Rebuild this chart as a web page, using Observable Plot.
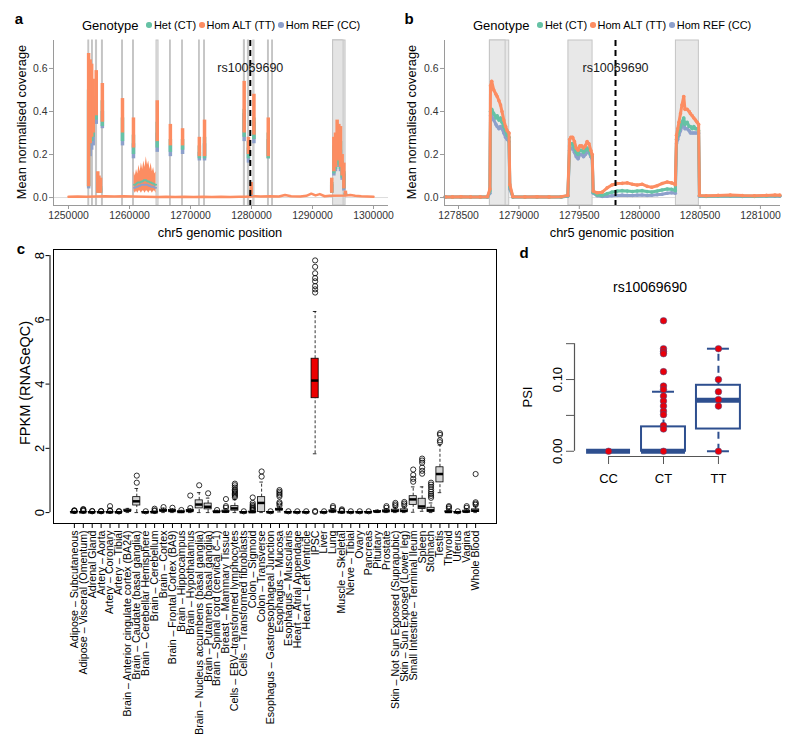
<!DOCTYPE html>
<html><head><meta charset="utf-8">
<script src="https://cdn.jsdelivr.net/npm/d3@7"></script>
<script src="https://cdn.jsdelivr.net/npm/@observablehq/plot@0.6"></script>
<style>
body{margin:0;background:#fff;font-family:"Liberation Sans",Arial,Helvetica,sans-serif;}
#wrap{position:relative;width:800px;height:750px;overflow:hidden;background:#fff;}
.lab{position:absolute;transform:translate(-50%,-50%);white-space:nowrap;color:#000;line-height:1;}
.rot{transform:translate(-50%,-50%) rotate(-90deg);}
.tag{font-weight:bold;font-size:15px;}
.legend{position:absolute;display:flex;align-items:center;font-size:11px;color:#000;white-space:nowrap;line-height:1;}
.legend .t{font-size:13px;margin-right:5px;}
.legend .d{width:5.5px;height:5.5px;border-radius:50%;display:inline-block;margin:0 2px 0 3px;}
.gg g[aria-label="x-axis tick"], .gg g[aria-label="y-axis tick"]{stroke:#9a9a9a;}
.gg g[aria-label="x-axis tick label"], .gg g[aria-label="y-axis tick label"]{fill:#333;}
.dd g[aria-label="x-axis tick"], .dd g[aria-label="y-axis tick"]{stroke:#555;}
</style></head><body><div id="wrap"></div>
<script>
// ---------- shared ----------
const genotypeLabels = ["Het (CT)", "Hom ALT (TT)", "Hom REF (CC)"];
const colCT = "#66c2a5", colTT = "#fc8d62", colCC = "#8da0cb";
const snpName = "rs10069690";
const snpPos = 1279800;
const exonStart = [1253250,1253850,1254500,1255480,1258780,1260580,1264430,1266640,1268620,1271400,1272230,1278760,1278760,1279410,1280300,1282700,1283380,1293380,1293380,1293380];
const exonEnd   = [1253400,1254000,1254680,1255640,1258930,1260730,1264760,1266780,1268760,1271530,1272370,1278920,1278890,1279610,1280490,1282850,1283520,1295420,1294900,1295100];

// ---------- panel a ----------
const aTicks = [1250000,1260000,1270000,1280000,1290000,1300000];
const aBasePos = [1250000,1251500,1253000,1256000,1257500,1259000,1260500,1264700,1266000,1267500,1269000,1270500,1272000,1273500,1275000,1276500,1278000,1279000,1280600,1281500,1283000,1284500,1285500,1286500,1288000,1289000,1289800,1290500,1291200,1292000,1292800,1295500,1296200,1297000,1298000,1299000,1300000];
const aBaseTT  = [0.004,0.005,0.004,0.006,0.005,0.006,0.005,0.003,0.004,0.003,0.004,0.003,0.004,0.003,0.004,0.003,0.004,0.004,0.006,0.005,0.006,0.005,0.012,0.006,0.005,0.008,0.018,0.01,0.016,0.006,0.008,0.01,0.012,0.008,0.006,0.005,0.004];
const aIntronPos = [1260750,1260950,1261150,1261350,1261550,1261750,1261950,1262150,1262350,1262550,1262750,1262950,1263150,1263350,1263550,1263750,1263950,1264150,1264350];
const aIntronLo  = [0.03,0.02,0.03,0.02,0.03,0.03,0.02,0.03,0.03,0.02,0.03,0.03,0.02,0.03,0.03,0.02,0.03,0.03,0.02];
const aIntronHi  = [0.12,0.10,0.13,0.11,0.15,0.12,0.16,0.13,0.17,0.14,0.19,0.15,0.17,0.13,0.16,0.12,0.14,0.11,0.12];
const aIntronCT  = [0.06,0.06,0.065,0.07,0.07,0.07,0.075,0.075,0.08,0.08,0.08,0.075,0.075,0.07,0.07,0.065,0.065,0.06,0.06];
const aIntronCC  = [0.045,0.045,0.05,0.05,0.055,0.055,0.06,0.06,0.06,0.06,0.06,0.06,0.055,0.055,0.05,0.05,0.05,0.045,0.045];
const aStreakPos = [1253300,1253550,1253800,1254050,1254550,1254800,1255000,1255250,1255550,1258850,1260650,1264550,1266700,1268700,1271450,1272300,1278800,1279500,1279950,1280400,1282750,1293150,1293500,1293770,1294040,1294320,1294590,1294860,1295140,1295400];
const aTTlo = [0.05,0.25,0.28,0.30,0.38,0.02,0.02,0.02,0.35,0.30,0.23,0.26,0.24,0.24,0.19,0.19,0.30,0.20,0.01,0.29,0.19,0.02,0.12,0.14,0.18,0.17,0.14,0.10,0.04,0.01];
const aTThi = [0.67,0.64,0.62,0.55,0.59,0.12,0.10,0.09,0.53,0.46,0.37,0.45,0.34,0.32,0.28,0.36,0.54,0.28,0.07,0.48,0.37,0.09,0.28,0.30,0.36,0.34,0.33,0.20,0.16,0.03];
const aCTlo = [0.05,0.25,0.26,0.28,0.36,0.02,0.02,0.02,0.33,0.26,0.20,0.23,0.21,0.22,0.18,0.18,0.28,0.18,0.01,0.27,0.18,0.02,0.11,0.13,0.16,0.15,0.13,0.09,0.04,0.01];
const aCThi = [0.50,0.48,0.46,0.42,0.47,0.07,0.06,0.05,0.45,0.37,0.29,0.35,0.27,0.27,0.24,0.28,0.41,0.26,0.04,0.37,0.30,0.07,0.24,0.25,0.28,0.27,0.26,0.17,0.12,0.02];
const aCClo = [0.04,0.19,0.22,0.24,0.34,0.02,0.02,0.02,0.32,0.24,0.18,0.21,0.19,0.20,0.17,0.17,0.26,0.16,0.005,0.25,0.18,0.02,0.10,0.12,0.15,0.14,0.12,0.08,0.03,0.01];
const aCChi = [0.45,0.42,0.40,0.38,0.42,0.05,0.05,0.04,0.40,0.30,0.25,0.30,0.24,0.24,0.21,0.25,0.39,0.23,0.02,0.35,0.27,0.06,0.20,0.22,0.25,0.24,0.22,0.15,0.11,0.02];

// ---------- panel b ----------
const bTicks = [1278500,1279000,1279500,1280000,1280500,1281000];
const bPos = [1278390,1278450,1278520,1278600,1278680,1278740,1278760,
 1278765,1278775,1278792,1278810,1278820,1278835,1278848,1278860,1278875,1278890,1278903,1278918,
 1278925,1278950,1279050,1279150,1279250,1279350,1279405,
 1279420,1279430,1279445,1279460,1279475,1279490,1279505,1279520,1279535,1279550,1279565,1279580,1279595,1279607,
 1279615,1279648,1279690,1279731,1279770,1279814,1279855,1279897,1279940,1279979,1280020,1280062,1280100,1280145,1280185,1280228,1280265,1280295,
 1280305,1280315,1280325,1280338,1280350,1280365,1280375,1280393,1280410,1280420,1280435,1280448,1280462,1280476,1280488,
 1280495,1280550,1280650,1280750,1280850,1280950,1281050,1281120,1281160];
const bTT = [0.003,0.003,0.004,0.003,0.003,0.004,0.04,
 0.52,0.54,0.50,0.48,0.47,0.45,0.43,0.40,0.36,0.33,0.31,0.30,
 0.06,0.004,0.003,0.004,0.003,0.004,0.01,
 0.27,0.28,0.28,0.26,0.23,0.22,0.24,0.24,0.23,0.24,0.26,0.25,0.22,0.20,
 0.03,0.022,0.025,0.045,0.058,0.065,0.066,0.068,0.062,0.058,0.062,0.052,0.048,0.055,0.065,0.072,0.068,0.06,
 0.29,0.32,0.35,0.39,0.43,0.47,0.41,0.41,0.40,0.39,0.38,0.37,0.36,0.35,0.34,
 0.01,0.008,0.01,0.012,0.009,0.008,0.01,0.012,0.011];
const bCT = [0.002,0.002,0.003,0.002,0.002,0.003,0.03,
 0.40,0.41,0.39,0.37,0.38,0.36,0.37,0.35,0.33,0.31,0.29,0.28,
 0.05,0.003,0.002,0.003,0.002,0.003,0.008,
 0.24,0.25,0.25,0.23,0.21,0.20,0.22,0.22,0.21,0.22,0.23,0.22,0.20,0.19,
 0.025,0.012,0.01,0.018,0.025,0.03,0.032,0.03,0.028,0.03,0.032,0.028,0.026,0.03,0.035,0.04,0.038,0.032,
 0.27,0.29,0.31,0.33,0.35,0.37,0.34,0.35,0.33,0.33,0.32,0.33,0.32,0.32,0.31,
 0.008,0.006,0.007,0.008,0.007,0.006,0.007,0.008,0.008];
const bCC = [0.002,0.002,0.002,0.002,0.002,0.002,0.02,
 0.38,0.38,0.36,0.34,0.33,0.32,0.33,0.32,0.30,0.28,0.27,0.26,
 0.04,0.002,0.002,0.002,0.002,0.002,0.006,
 0.22,0.23,0.23,0.21,0.19,0.18,0.20,0.20,0.19,0.20,0.21,0.21,0.19,0.18,
 0.02,0.008,0.005,0.006,0.008,0.01,0.011,0.01,0.01,0.011,0.012,0.01,0.011,0.013,0.015,0.02,0.022,0.02,
 0.25,0.27,0.29,0.31,0.33,0.35,0.32,0.32,0.31,0.30,0.30,0.30,0.30,0.30,0.30,
 0.006,0.005,0.006,0.006,0.005,0.005,0.006,0.006,0.006];

// ---------- panel c ----------
const cTissue = ["Adipose – Subcutaneous","Adipose – Visceral (Omentum)","Adrenal Gland","Artery – Aorta","Artery – Coronary","Artery – Tibial","Brain – Anterior cingulate cortex (BA24)","Brain – Caudate (basal ganglia)","Brain – Cerebellar Hemisphere","Brain – Cerebellum","Brain – Cortex","Brain – Frontal Cortex (BA9)","Brain – Hippocampus","Brain – Hypothalamus","Brain – Nucleus accumbens (basal ganglia)","Brain – Putamen (basal ganglia)","Brain – Spinal cord (cervical c–1)","Breast – Mammary Tissue","Cells – EBV–transformed lymphocytes","Cells – Transformed fibroblasts","Colon – Sigmoid","Colon – Transverse","Esophagus – Gastroesophageal Junction","Esophagus – Mucosa","Esophagus – Muscularis","Heart – Atrial Appendage","Heart – Left Ventricle","IPSC","Liver","Lung","Muscle – Skeletal","Nerve – Tibial","Ovary","Pancreas","Pituitary","Prostate","Skin – Not Sun Exposed (Suprapubic)","Skin – Sun Exposed (Lower leg)","Small Intestine – Terminal Ileum","Spleen","Stomach","Testis","Thyroid","Uterus","Vagina","Whole Blood"];
const cHighlight = "IPSC";
const cQ1  = [0.005,0.005,0.003,0.003,0.004,0.003,0.04,0.22,0.003,0.004, 0.04,0.03,0.01,0.03,0.13,0.10,0.01,0.01,0.06,0.003, 0.005,0.02,0.003,0.07,0.003,0.003,0.003,3.56,0.003,0.02, 0.004,0.003,0.003,0.003,0.02,0.02,0.02,0.02,0.24,0.11, 0.02,0.94,0.01,0.003,0.01,0.02];
const cMed = [0.01,0.01,0.008,0.008,0.01,0.007,0.06,0.35,0.008,0.01, 0.06,0.05,0.02,0.05,0.25,0.18,0.02,0.03,0.13,0.008, 0.015,0.30,0.008,0.10,0.008,0.008,0.008,4.11,0.008,0.04, 0.01,0.008,0.008,0.008,0.03,0.04,0.05,0.05,0.41,0.19, 0.07,1.20,0.02,0.008,0.03,0.06];
const cQ3  = [0.02,0.02,0.015,0.015,0.02,0.013,0.09,0.48,0.015,0.02, 0.09,0.08,0.04,0.08,0.38,0.28,0.04,0.06,0.20,0.015, 0.03,0.48,0.015,0.12,0.015,0.015,0.015,4.79,0.015,0.07, 0.02,0.015,0.015,0.015,0.05,0.07,0.09,0.10,0.51,0.43, 0.15,1.41,0.04,0.015,0.06,0.10];
const cLo  = [0,0,0,0,0,0,0,0,0,0, 0,0,0,0,0,0,0,0,0,0, 0,0,0,0.02,0,0,0,1.83,0,0, 0,0,0,0,0,0,0,0,0.01,0.04, 0,0.62,0,0,0,0];
const cHi  = [0.04,0.04,0.03,0.03,0.04,0.025,0.13,0.75,0.03,0.04, 0.14,0.12,0.07,0.12,0.62,0.45,0.07,0.12,0.40,0.03, 0.06,0.95,0.03,0.18,0.03,0.03,0.03,6.26,0.03,0.12, 0.04,0.03,0.03,0.03,0.08,0.12,0.16,0.18,0.80,0.80, 0.30,2.10,0.08,0.03,0.12,0.20];
const cOut = [[0.05,0.06,0.07],[0.05,0.07,0.09,0.11],[0.04,0.05],[0.04,0.05],[0.05,0.07,0.20],[0.035,0.045],[],[0.93,1.15],[0.04],[0.05,0.07,0.12],
 [0.17],[0.15],[0.08],[0.14,0.53],[0.85],[0.60],[0.08],[0.15,0.20,0.42],[0.48,0.52,0.56,0.60,0.64,0.68,0.72,0.78,0.85,0.90],[0.04],
 [0.08,0.10,0.13,0.16,0.20,0.24,0.30,0.47],[1.12,1.28],[0.04],[0.22,0.28,0.32,0.50,0.55,0.60,0.65,0.70],[0.04],[0.04],[0.04],[0.02,0.05,6.85,6.95,7.05,7.20,7.30,7.45,7.65,7.85],[0.04],[0.15,0.20],
 [0.05,0.07,0.10],[0.04],[0.04],[0.04],[],[0.15,0.20],[0.20,0.25,0.30],[0.22,0.28,0.33],[0.96,1.05,1.17,1.34],[1.21,1.30,1.40,1.55,1.62,1.68],
 [0.46,0.52,0.58,0.65,0.72,0.80,0.87,0.93],[2.19,2.25,2.42,2.47],[0.12,0.17,0.20],[0.04],[0.15,0.20],[0.24,0.28,0.32,1.20]];
const cYTicks = [0,2,4,6,8];

// ---------- panel d ----------
const dGroups = ["CC","CT","TT"];
const dQ1  = [0, 0, 0.031];
const dMed = [0, 0, 0.071];
const dQ3  = [0, 0.034, 0.092];
const dLo  = [0, 0, 0];
const dHi  = [0, 0.083, 0.143];
const dPoints = [[0],
 [0.182,0.143,0.139,0.136,0.111,0.091,0.086,0.077,0.070,0.063,0.056,0.051,0.036,0.031,0],
 [0.143,0.100,0.083,0.072,0.063,0]];
const dYTicks = [0,0.05,0.10,0.15];

// ================= build =================
const FONT = '"Liberation Sans", Arial, Helvetica, sans-serif';
const wrap = document.getElementById("wrap");
function place(el, left, top, cls){ el.style.position="absolute"; el.style.left=left+"px"; el.style.top=top+"px"; el.style.overflow="visible"; el.style.maxWidth="none"; if(cls) el.classList.add(cls); wrap.appendChild(el); }
function label(text, x, y, size, opts={}){ const d=document.createElement("div"); d.className="lab"+(opts.rot?" rot":"")+(opts.tag?" tag":""); d.textContent=text; d.style.left=x+"px"; d.style.top=y+"px"; if(size) d.style.fontSize=size+"px"; wrap.appendChild(d); }
function legend(x, y){
  const d=document.createElement("div"); d.className="legend"; d.style.left=x+"px"; d.style.top=(y-8)+"px"; d.style.height="16px";
  let h='<span class="t">Genotype</span>';
  const cols=[colCT,colTT,colCC];
  genotypeLabels.forEach((g,i)=>{ h+=`<span class="d" style="background:${cols[i]}"></span><span>${g}</span>`; });
  d.innerHTML=h; wrap.appendChild(d);
}
const exons = exonStart.map((s,i)=>({s, e:exonEnd[i]}));

// panel a
const aDomX=[1247541,1302459], aDomY=[-0.037,0.73];
const aBase = aBasePos.map((p,i)=>({pos:p, v:aBaseTT[i]}));
const aIn = aIntronPos.map((p,i)=>({pos:p, lo:aIntronLo[i], hi:aIntronHi[i], ct:aIntronCT[i], cc:aIntronCC[i]}));
const aS = aStreakPos.map((p,i)=>({pos:p, ttlo:aTTlo[i], tthi:aTThi[i], ctlo:aCTlo[i], cthi:aCThi[i], cclo:aCClo[i], cchi:aCChi[i]}));
const styleGG = {background:"transparent", fontFamily:FONT, fontSize:"10.4px", color:"#333", overflow:"visible"};
const pa = Plot.plot({
  width:400, height:250, marginLeft:53, marginRight:12, marginTop:40, marginBottom:45,
  style:styleGG, x:{domain:aDomX}, y:{domain:aDomY},
  marks:[
    Plot.ruleY([0],{stroke:"#dcdcdc"}),
    Plot.rect(exons.filter(d=>d.e>aDomX[0]&&d.s<aDomX[1]),{x1:"s",x2:"e",fill:"#e4e4e4",stroke:"#c4c4c4",strokeWidth:1}),
    Plot.line(aBase,{x:"pos",y:"v",stroke:colTT,strokeWidth:2.5}),
    Plot.areaY(aIn,{x:"pos",y1:"lo",y2:"hi",fill:colTT}),
    Plot.line(aIn,{x:"pos",y:"ct",stroke:colCT,strokeWidth:2}),
    Plot.line(aIn,{x:"pos",y:"cc",stroke:colCC,strokeWidth:2}),
    Plot.ruleX(aS,{x:"pos",y1:"cclo",y2:"cchi",stroke:colCC,strokeWidth:3.5}),
    Plot.ruleX(aS,{x:"pos",y1:"ctlo",y2:"cthi",stroke:colCT,strokeWidth:3.5}),
    Plot.ruleX(aS,{x:"pos",y1:"ttlo",y2:"tthi",stroke:colTT,strokeWidth:3.5}),
    Plot.ruleX([snpPos],{stroke:"#000",strokeWidth:2,strokeDasharray:"6,4"}),
    Plot.text([{x:snpPos,y:0.6,t:snpName}],{x:"x",y:"y",text:"t",fontSize:12.5,fill:"#1a1a1a"}),
    Plot.ruleX([aDomX[0]],{stroke:"#9a9a9a"}),
    Plot.ruleY([aDomY[0]],{stroke:"#9a9a9a"}),
    Plot.axisX({ticks:aTicks,tickFormat:d3.format("d"),tickSize:4,tickPadding:2,label:null}),
    Plot.axisY({ticks:[0,0.2,0.4,0.6],tickFormat:d3.format(".1f"),tickSize:4,tickPadding:2,label:null})
  ]
});
place(pa,0,0,"gg");

// panel b
const bDomX=[1278384,1281166], bDomY=aDomY;
const bRows = bPos.map((p,i)=>({pos:p, tt:bTT[i], ct:bCT[i], cc:bCC[i]}));
const pb = Plot.plot({
  width:400, height:250, marginLeft:44, marginRight:20, marginTop:40, marginBottom:45,
  style:styleGG, x:{domain:bDomX}, y:{domain:bDomY},
  marks:[
    Plot.ruleY([0],{stroke:"#dcdcdc"}),
    Plot.rect(exons.filter(d=>d.e>bDomX[0]&&d.s<bDomX[1]),{x1:"s",x2:"e",fill:"#e8e8e8",stroke:"#c4c4c4",strokeWidth:1}),
    Plot.line(bRows,{x:"pos",y:"cc",stroke:colCC,strokeWidth:3}),
    Plot.dot(bRows,{x:"pos",y:"cc",fill:colCC,r:1.8}),
    Plot.line(bRows,{x:"pos",y:"ct",stroke:colCT,strokeWidth:3}),
    Plot.dot(bRows,{x:"pos",y:"ct",fill:colCT,r:1.8}),
    Plot.line(bRows,{x:"pos",y:"tt",stroke:colTT,strokeWidth:3}),
    Plot.dot(bRows,{x:"pos",y:"tt",fill:colTT,r:1.8}),
    Plot.ruleX([snpPos],{stroke:"#000",strokeWidth:2,strokeDasharray:"6,4"}),
    Plot.text([{x:snpPos,y:0.6,t:snpName}],{x:"x",y:"y",text:"t",fontSize:12.5,fill:"#1a1a1a"}),
    Plot.ruleX([bDomX[0]],{stroke:"#9a9a9a"}),
    Plot.ruleY([bDomY[0]],{stroke:"#9a9a9a"}),
    Plot.axisX({ticks:bTicks,tickFormat:d3.format("d"),tickSize:4,tickPadding:2,label:null}),
    Plot.axisY({ticks:[0,0.2,0.4,0.6],tickFormat:d3.format(".1f"),tickSize:4,tickPadding:2,label:null})
  ]
});
place(pb,400,0,"gg");

// panel c
const cRows = cTissue.map((name,k)=>({i:k+1, name, q1:cQ1[k], med:cMed[k], q3:cQ3[k], lo:cLo[k], hi:cHi[k]}));
const cOutRows = cOut.flatMap((arr,k)=>arr.map(v=>({i:k+1, v})));
const cDomX=[-1.34,48.34], cDomY=[-0.34,8.19];
const pc = Plot.plot({
  width:510, height:510, marginLeft:53, marginRight:14, marginTop:9, marginBottom:227,
  style:{background:"transparent", fontFamily:FONT, fontSize:"13px", color:"#000", overflow:"visible"},
  x:{domain:cDomX}, y:{domain:cDomY},
  marks:[
    Plot.frame({stroke:"#000",strokeWidth:1}),
    Plot.ruleX(cRows,{x:"i",y1:"q3",y2:"hi",stroke:"#000",strokeWidth:0.8,strokeDasharray:"3,2"}),
    Plot.ruleX(cRows,{x:"i",y1:"lo",y2:"q1",stroke:"#000",strokeWidth:0.8,strokeDasharray:"3,2"}),
    Plot.ruleY(cRows,{y:"hi",x1:d=>d.i-0.2,x2:d=>d.i+0.2,stroke:"#000",strokeWidth:0.8}),
    Plot.ruleY(cRows,{y:"lo",x1:d=>d.i-0.2,x2:d=>d.i+0.2,stroke:"#000",strokeWidth:0.8}),
    Plot.rect(cRows,{x1:d=>d.i-0.4,x2:d=>d.i+0.4,y1:"q1",y2:"q3",fill:d=>d.name===cHighlight?"#ec0000":"#d3d3d3",stroke:"#000",strokeWidth:0.8}),
    Plot.ruleY(cRows,{y:"med",x1:d=>d.i-0.4,x2:d=>d.i+0.4,stroke:"#000",strokeWidth:2.5}),
    Plot.dot(cOutRows,{x:"i",y:"v",r:2.6,stroke:"#000",strokeWidth:0.8,fill:"none"}),
    Plot.ruleX([{x:cDomX[0],y1:cYTicks[0],y2:cYTicks[cYTicks.length-1]}],{x:"x",y1:"y1",y2:"y2",dx:-3.5,stroke:"#000"}),
    Plot.axisY({ticks:cYTicks,tickSize:4,tickPadding:2,tickRotate:-90,dx:-3.5,fontSize:13,label:null}),
    Plot.axisX({ticks:cRows.map(d=>d.i),tickFormat:i=>cTissue[i-1],tickSize:5,tickPadding:2,tickRotate:-90,textAnchor:"end",fontSize:10.6,label:null})
  ]
});
place(pc,0,240);

// panel d
const dBlue = "#2e4f8f";
const dRows = dGroups.map((g,k)=>({i:k+1, g, q1:dQ1[k], med:dMed[k], q3:dQ3[k], lo:dLo[k], hi:dHi[k]}));
const dPts = dPoints.flatMap((arr,k)=>arr.map(v=>({i:k+1, v})));
const dDomX=[0.38,3.62], dDomY=[-0.0073,0.1893];
const pd = Plot.plot({
  width:300, height:270, marginLeft:74, marginRight:48, marginTop:75, marginBottom:54,
  style:{background:"transparent", fontFamily:FONT, fontSize:"13px", color:"#000", overflow:"visible"},
  x:{domain:dDomX}, y:{domain:dDomY},
  marks:[
    Plot.ruleX(dRows.filter(d=>d.hi>d.q3),{x:"i",y1:"q3",y2:"hi",stroke:dBlue,strokeWidth:2,strokeDasharray:"7,5"}),
    Plot.ruleX(dRows.filter(d=>d.q1>d.lo),{x:"i",y1:"lo",y2:"q1",stroke:dBlue,strokeWidth:2,strokeDasharray:"7,5"}),
    Plot.ruleY(dRows,{y:"hi",x1:d=>d.i-0.2,x2:d=>d.i+0.2,stroke:dBlue,strokeWidth:2}),
    Plot.ruleY(dRows,{y:"lo",x1:d=>d.i-0.2,x2:d=>d.i+0.2,stroke:dBlue,strokeWidth:2}),
    Plot.rect(dRows,{x1:d=>d.i-0.4,x2:d=>d.i+0.4,y1:"q1",y2:"q3",fill:"#fff",stroke:dBlue,strokeWidth:2}),
    Plot.ruleY(dRows,{y:"med",x1:d=>d.i-0.4,x2:d=>d.i+0.4,stroke:dBlue,strokeWidth:5}),
    Plot.dot(dPts,{x:"i",y:"v",r:3.3,fill:"#e8000b",stroke:"#3b4f8c",strokeWidth:0.5}),
    Plot.ruleX([{x:dDomX[0],y1:dYTicks[0],y2:dYTicks[dYTicks.length-1]}],{x:"x",y1:"y1",y2:"y2",stroke:"#555",strokeWidth:1.2}),
    Plot.ruleY([{y:dDomY[0],x1:1,x2:dGroups.length}],{y:"y",x1:"x1",x2:"x2",stroke:"#555",strokeWidth:1.2}),
    Plot.axisY({ticks:dYTicks,tickFormat:v=>(v===0?"0.00":Math.abs(v-0.1)<1e-9?"0.10":""),tickSize:8,tickPadding:5,tickRotate:-90,fontSize:13,label:null}),
    Plot.axisX({ticks:dRows.map(d=>d.i),tickFormat:i=>dGroups[i-1],tickSize:8,tickPadding:9,fontSize:13,label:null})
  ]
});
place(pd,500,240,"dd");

// ---------- text overlays ----------
label("a",19,18,15,{tag:true});
legend(82,25);
label("Mean normalised coverage",22,122,12.8,{rot:true});
label("chr5 genomic position",220,233,12.8);
label("b",409,18,15,{tag:true});
legend(473,25);
label("Mean normalised coverage",412,122,12.8,{rot:true});
label("chr5 genomic position",612,233,12.8);
label("c",21,248,15,{tag:true});
label("FPKM (RNASeQC)",25,383,14.5,{rot:true});
label("d",524,252,15,{tag:true});
label(snpName,650,287,14);
label("PSI",527,397,13,{rot:true});
</script></body></html>
